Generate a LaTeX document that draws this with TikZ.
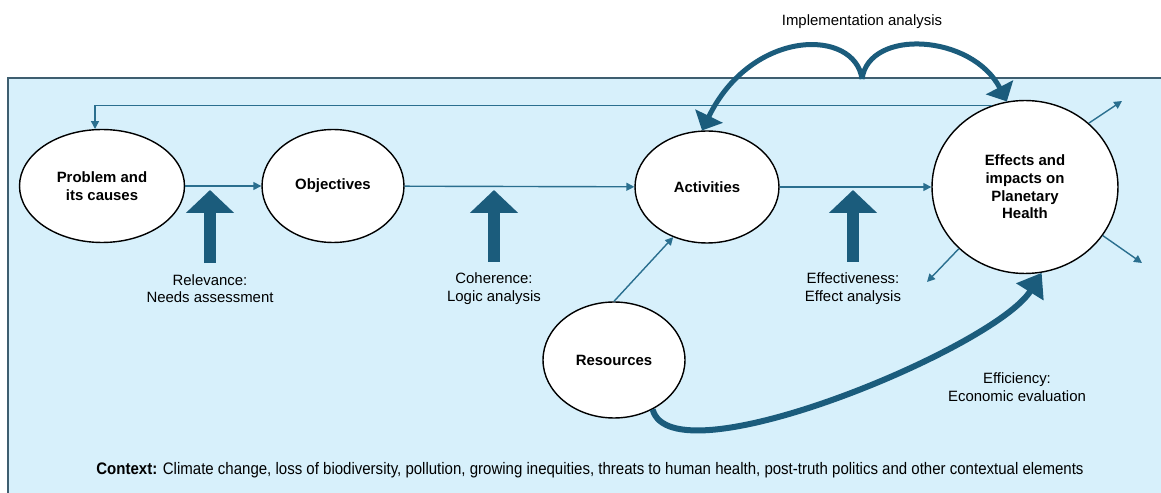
\documentclass[tikz,border=0pt]{standalone}
\usepackage{fontspec}
\setmainfont{Liberation Sans}
\usepackage{graphicx}
\usetikzlibrary{arrows.meta}
\usetikzlibrary{shapes.geometric}

\definecolor{bgblue}{HTML}{D7F0FB}
\definecolor{deepblue}{HTML}{1B5C7C}
\definecolor{edgeblue}{HTML}{2A6F8F}
\definecolor{frameblue}{HTML}{3E5E70}

\begin{document}
\begin{tikzpicture}[x=0.02cm,y=-0.02cm,
	bubble/.style={ellipse,draw=black,line width=0.8pt,fill=white,inner sep=0pt,
		align=center,font=\fontsize{8.5}{10}\selectfont\bfseries},
	flow/.style={draw=edgeblue,line width=0.8pt,-{Triangle[length=4.5pt,width=4.5pt]}},
	uparrow/.style={draw=deepblue,line width=0.24cm,shorten <=0.1cm,
		-{Triangle[length=0.46cm,width=0.94cm]}},
	bigflow/.style={draw=deepblue,line width=0.1cm,-{Triangle[length=0.32cm,width=0.6cm]}},
	note/.style={align=center,font=\fontsize{8.5}{10}\selectfont}]
	\useasboundingbox (0,0) rectangle (1161,493);
	% frame
	\fill[bgblue] (8,78) rectangle (1180,510);
	\draw[frameblue,line width=1.5pt] (8,510) -- (8,78) -- (1180,78);

	% main chain
	\node[bubble,minimum width=3.3cm,minimum height=2.26cm] (prob) at (102,186) {Problem and\\its causes};
	\node[bubble,minimum width=2.84cm,minimum height=2.26cm] (obj) at (333,186) {Objectives};
	\node[bubble,minimum width=2.88cm,minimum height=2.24cm] (act) at (707,187) {Activities};
	\node[bubble,minimum width=3.72cm,minimum height=3.46cm] (eff) at (1025,187) {Effects and\\impacts on\\Planetary\\Health};
	\node[bubble,minimum width=2.84cm,minimum height=2.32cm] (res) at (614,360) {Resources};

	\draw[flow] (prob) -- (obj);
	\draw[flow] (obj) -- (act);
	\draw[flow] (act) -- (eff);
	\draw[flow] (res.north) -- (act.236);
	\draw[flow] (eff.112) -| (prob.97);

	% effects going out
	\coordinate (outA) at (1122,101);
	\coordinate (outB) at (1142,263);
	\coordinate (outC) at (927,282);
	\draw[flow] (eff.45) -- (outA);
	\draw[flow] (eff.-32) -- (outB);
	\draw[flow] (eff.-137) -- (outC);

	% evaluation criteria
	\node[note] (relev) at (210,288.5) {Relevance:\\Needs assessment};
	\node[note] (coher) at (494,288.5) {Coherence:\\Logic analysis};
	\node[note] (effect) at (853,288.5) {Effectiveness:\\Effect analysis};
	\coordinate (relTip) at (210,190);
	\coordinate (cohTip) at (494,190);
	\coordinate (effTip) at (853,190);
	\draw[uparrow] (relev.north) -- (relTip);
	\draw[uparrow] (coher.north) -- (cohTip);
	\draw[uparrow] (effect.north) -- (effTip);

	% implementation
	\node[note] (impl) at (862,22) {Implementation analysis};
	\coordinate (cusp) at (862,79);
	\draw[bigflow] (cusp) .. controls (855,28) and (752,28) .. (act.95);
	\draw[bigflow] (cusp) .. controls (869,28) and (972,34) .. (eff.102);

	% efficiency
	\node[note] (effic) at (1017,387) {Efficiency:\\Economic evaluation};
	\draw[bigflow,line width=0.12cm,-{Triangle[length=0.45cm,width=0.62cm]}]
		(res.-52) .. controls (672,482) and (995,348) .. (eff.-79);

	\node[note] (ctx) at (590,470) {\scalebox{0.9}[1]{\fontsize{9.5}{11}\selectfont\textbf{Context:} Climate change, loss of biodiversity, pollution, growing inequities, threats to human health, post-truth politics and other contextual elements}};
\end{tikzpicture}
\end{document}
